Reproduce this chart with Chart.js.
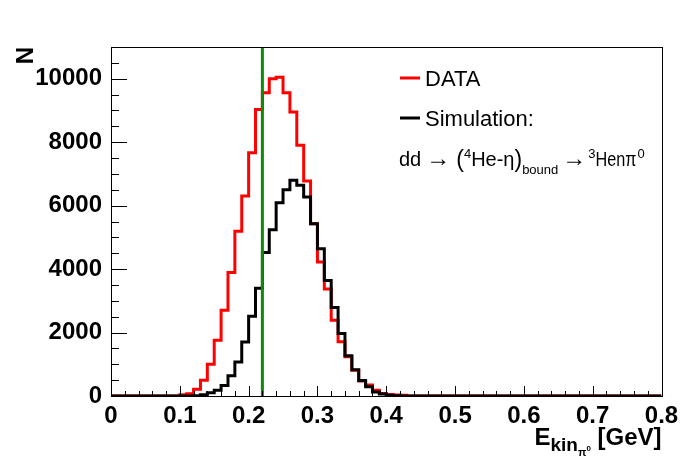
<!DOCTYPE html>
<html>
<head>
<meta charset="utf-8">
<script src="https://cdn.jsdelivr.net/npm/chart.js@4.4.0/dist/chart.umd.min.js"></script>
<style>
  html, body { margin: 0; padding: 0; background: #fff; }
  #wrap { width: 696px; height: 472px; }
</style>
</head>
<body>
<div id="wrap"><canvas id="chart" width="696" height="472"></canvas></div>
<script>
// histogram binning: 80 bins of 0.01 GeV from 0 to 0.8
const binWidth = 0.01;
const nBins = 80;
const firstFilledBin = 10; // first listed value is the bin 0.10-0.11

// bin contents, bins 0.10 .. 0.42
const dataCounts = [40, 70, 210, 500, 1000, 1760, 2700, 3890, 5190, 6300,
  7670, 9030, 9560, 10000, 10050, 9560, 8950, 7900, 6780, 5430,
  4220, 3370, 2390, 1710, 1240, 812, 476, 350, 183, 80,
  50, 35, 20];
const simCounts = [0, 0, 10, 40, 100, 183, 330, 640, 1070, 1700,
  2513, 3395, 4519, 5243, 6094, 6504, 6797, 6640, 6271, 5433,
  4645, 3640, 2787, 1968, 1270, 830, 490, 288, 130, 63,
  20, 10, 0];

// vertical cut line
const cutValue = 0.22;

// axes
const xRange = [0, 0.8];
const yRange = [0, 11000];
const xTicks = [0, 0.1, 0.2, 0.3, 0.4, 0.5, 0.6, 0.7, 0.8];
const xTickLabels = ['0', '0.1', '0.2', '0.3', '0.4', '0.5', '0.6', '0.7', '0.8'];
const yTicks = [0, 2000, 4000, 6000, 8000, 10000];
const yTickLabels = ['0', '2000', '4000', '6000', '8000', '10000'];
const xMinorStep = 0.02;
const yMinorStep = 500;

const FONT = "'Liberation Sans', Arial, Helvetica, sans-serif";

// histogramm -> punkte fuer stepped line (punkt = untere binkante)
function histPoints(counts) {
    const pts = [];
    for (let i = 0; i < nBins; i++) {
        const k = i - firstFilledBin;
        const v = (k >= 0 && k < counts.length) ? counts[k] : 0;
        pts.push({ x: +(i * binWidth).toFixed(2), y: v });
    }
    pts.push({ x: +(nBins * binWidth).toFixed(2), y: 0 });
    return pts;
}

// rahmen + ticks nach innen (ROOT style)
const frameAndTicks = {
    id: 'frameAndTicks',
    afterDraw(chart) {
        const { ctx, chartArea: a, scales: { x, y } } = chart;
        ctx.save();
        ctx.strokeStyle = '#000';
        ctx.lineWidth = 1;
        ctx.strokeRect(Math.round(a.left) + 0.5, Math.round(a.top) + 0.5,
            Math.round(a.right - a.left), Math.round(a.bottom - a.top));
        ctx.beginPath();
        for (let i = 0; i * yMinorStep <= y.max; i++) {
            const v = i * yMinorStep;
            const py = Math.round(y.getPixelForValue(v)) + 0.5;
            const len = yTicks.includes(v) ? 16 : 8;
            ctx.moveTo(a.left, py);
            ctx.lineTo(a.left + len, py);
        }
        for (let i = 0; i * xMinorStep <= x.max + 1e-9; i++) {
            const v = +(i * xMinorStep).toFixed(2);
            const px = Math.round(x.getPixelForValue(v)) + 0.5;
            const len = xTicks.includes(v) ? 10 : 5;
            ctx.moveTo(px, a.bottom);
            ctx.lineTo(px, a.bottom - len);
        }
        ctx.stroke();
        ctx.restore();
    }
};

// achsentitel mit sub/superscripts
const axisTitles = {
    id: 'axisTitles',
    afterDraw(chart) {
        const { ctx, chartArea: a } = chart;
        ctx.save();
        ctx.fillStyle = '#000';

        // y: N
        ctx.save();
        ctx.translate(33, a.top);
        ctx.rotate(-Math.PI / 2);
        ctx.font = `bold 24px ${FONT}`;
        ctx.textAlign = 'right';
        ctx.textBaseline = 'alphabetic';
        ctx.fillText('N', 0, 0);
        ctx.restore();

        // x: E_{kin_{pi0}} [GeV]
        const base = 445;
        const parts = [
            { t: 'E', f: `bold 24px ${FONT}`, dy: 0 },
            { t: 'kin', f: `bold 19px ${FONT}`, dy: 6 },
            { t: 'π', f: `bold 11px ${FONT}`, dy: 11 },
            { t: '0', f: `bold 8px ${FONT}`, dy: 6 },
            { t: ' [GeV]', f: `bold 24px ${FONT}`, dy: 0 }
        ];
        let total = 0;
        parts.forEach(p => { ctx.font = p.f; p.w = ctx.measureText(p.t).width; total += p.w; });
        let cx = a.right - total;
        ctx.textAlign = 'left';
        ctx.textBaseline = 'alphabetic';
        parts.forEach(p => { ctx.font = p.f; ctx.fillText(p.t, cx, base + p.dy); cx += p.w; });
        ctx.restore();
    }
};

// legende
const legendBox = {
    id: 'legendBox',
    afterDraw(chart) {
        const { ctx } = chart;
        ctx.save();
        ctx.lineWidth = 3;
        ctx.strokeStyle = '#ff0000';
        ctx.beginPath(); ctx.moveTo(400, 78); ctx.lineTo(420, 78); ctx.stroke();
        ctx.strokeStyle = '#000';
        ctx.beginPath(); ctx.moveTo(400, 118); ctx.lineTo(420, 118); ctx.stroke();

        ctx.fillStyle = '#000';
        ctx.textAlign = 'left';
        ctx.textBaseline = 'alphabetic';
        ctx.font = `22px ${FONT}`;
        ctx.fillText('DATA', 425, 86);
        ctx.fillText('Simulation:', 425, 126);

        // dd -> (4He-eta)bound -> 3He n pi0, gap = extra abstand davor, mw = max breite
        const base = 166;
        const parts = [
            { t: 'dd', s: 20, dy: 0, gap: 0 },
            { t: '\u2192', s: 24, dy: 0, gap: 5 },
            { t: '(', s: 23, dy: 1, gap: 6 },
            { t: '4', s: 13, dy: -8, gap: 0 },
            { t: 'He-\u03b7', s: 20, dy: 0, gap: 0 },
            { t: ')', s: 23, dy: 1, gap: 0 },
            { t: 'bound', s: 13, dy: 8, gap: 0 },
            { t: '\u2192', s: 24, dy: 0, gap: 4 },
            { t: '3', s: 13, dy: -8, gap: 2 },
            { t: 'Hen\u03c0', s: 20, dy: 0, gap: 0, mw: 41 },
            { t: '0', s: 13, dy: -8, gap: 1 }
        ];
        let cx = 399;
        parts.forEach(p => {
            cx += p.gap;
            ctx.font = `${p.s}px ${FONT}`;
            let w = ctx.measureText(p.t).width;
            if (p.mw && w > p.mw) {
                ctx.fillText(p.t, cx, base + p.dy, p.mw);
                w = p.mw;
            } else {
                ctx.fillText(p.t, cx, base + p.dy);
            }
            cx += w;
        });
        ctx.restore();
    }
};

const ctx = document.getElementById('chart').getContext('2d');
new Chart(ctx, {
    type: 'line',
    data: {
        datasets: [
            {
                label: 'cut',
                data: [{ x: cutValue, y: yRange[0] }, { x: cutValue, y: yRange[1] }],
                borderColor: 'rgb(10,140,10)',
                borderWidth: 3,
                pointRadius: 0,
                order: 0
            },
            {
                label: 'Simulation',
                data: histPoints(simCounts),
                borderColor: '#000000',
                borderWidth: 3,
                stepped: 'before',
                pointRadius: 0,
                order: 1
            },
            {
                label: 'DATA',
                data: histPoints(dataCounts),
                borderColor: '#ff0000',
                borderWidth: 3,
                stepped: 'before',
                pointRadius: 0,
                order: 2
            }
        ]
    },
    options: {
        responsive: false,
        animation: false,
        devicePixelRatio: 1,
        layout: { padding: { left: 0, top: 47, right: 34.5, bottom: 0 } },
        plugins: {
            legend: { display: false },
            tooltip: { enabled: false }
        },
        elements: { line: { borderJoinStyle: 'miter', borderCapStyle: 'butt' } },
        scales: {
            x: {
                type: 'linear',
                min: xRange[0],
                max: xRange[1],
                afterBuildTicks: s => { s.ticks = xTicks.map(v => ({ value: v })); },
                afterFit: s => { s.height = 76; },
                grid: { display: false, drawTicks: false },
                border: { display: false },
                ticks: {
                    padding: 6,
                    maxRotation: 0,
                    autoSkip: false,
                    color: '#000',
                    font: { family: FONT, size: 24, weight: 'bold' },
                    callback: (v, i) => xTickLabels[i]
                }
            },
            y: {
                type: 'linear',
                min: yRange[0],
                max: yRange[1],
                afterBuildTicks: s => { s.ticks = yTicks.map(v => ({ value: v })); },
                afterFit: s => { s.width = 111; },
                grid: { display: false, drawTicks: false },
                border: { display: false },
                ticks: {
                    padding: 9,
                    autoSkip: false,
                    color: '#000',
                    font: { family: FONT, size: 24, weight: 'bold' },
                    callback: (v, i) => yTickLabels[i]
                }
            }
        }
    },
    plugins: [frameAndTicks, axisTitles, legendBox]
});
</script>
</body>
</html>
